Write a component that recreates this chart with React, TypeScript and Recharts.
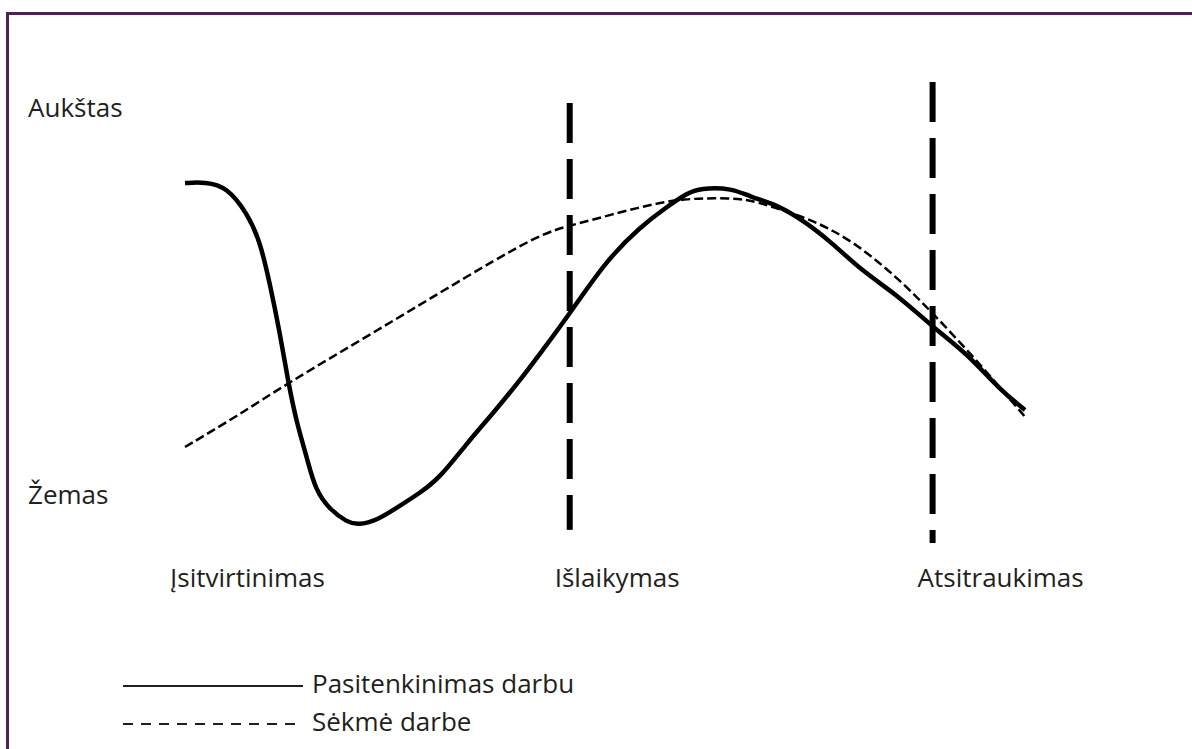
import React from "react";
import { LineChart, Line, XAxis, YAxis, ReferenceLine, Legend } from "recharts";

// career progress (0 = start, 100 = end) and level (Žemas = 0, Aukštas = 100)
const satisfactionT = [
  0, 2.4, 5, 7.4, 8.9, 10.1, 11.3, 12.3, 13.3, 14.5, 15.5, 17.3, 19.3, 20.6, 22.9, 25.2, 28, 30.4, 33.6,
  36.7, 39.9, 42.3, 46.1, 50.2, 54.2, 57.4, 59.8, 61.3, 65.2, 67.3, 70, 73.2, 77.1, 80.4, 85.1, 89, 93.1,
  97, 100,
];
const satisfactionLevel = [
  80.6, 80.9, 79.6, 72.8, 65.8, 54.7, 41.8, 29.0, 18.6, 9.8, 1.3, -3.9, -7.0, -7.75, -6.5, -3.3, 0.55, 4.6,
  13.5, 21.2, 29.7, 36.6, 47.8, 60.7, 69.3, 74.5, 78.0, 79.3, 79.3, 77.0, 75.4, 71.6, 65.1, 58.2, 51.2,
  43.4, 36.6, 27.2, 22.0,
];
const successT = [0, 6.2, 12.3, 22, 31.2, 42.3, 46.1, 54.2, 59.3, 65.2, 67.6, 74, 77.1, 80.4, 85.1, 89, 93.1, 97, 100];
const successLevel = [
  12.4, 20.4, 29.0, 41.4, 53.4, 67.7, 69.7, 74.5, 76.7, 76.7, 76.2, 71.6, 68.4, 64.1, 55.6, 47.0, 37.5,
  27.9, 20.2,
];

const seriesNames = ["Pasitenkinimas darbu", "Sėkmė darbe"];
const stageNames = ["Įsitvirtinimas", "Išlaikymas", "Atsitraukimas"];
const stageStarts = [0, 45.8, 89];
const levelNames = ["Žemas", "Aukštas"];
const levelTicks = [0, 100];
// stage boundaries (the first stage has none) and how far each one reaches
const boundaryT = [45.8, 89];
const boundaryTop = [101.3, 106.7];
const boundaryBottom = [-9, -12.4];

const satisfaction = satisfactionT.map((t, i) => ({ t, level: satisfactionLevel[i] }));
const success = successT.map((t, i) => ({ t, level: successLevel[i] }));

const INK = "#231f20";
const FONT = "'Open Sans', sans-serif";
const FONT_SIZE = 26;

function StageTick(props: any) {
  const { x, y, payload } = props;
  const i = stageStarts.indexOf(payload.value);
  return (
    <text x={x - 15} y={y + 43} textAnchor="start" dominantBaseline="central" fill={INK} fontSize={FONT_SIZE} fontFamily={FONT}>
      {stageNames[i]}
    </text>
  );
}

function LevelTick(props: any) {
  const { x, y, payload } = props;
  const i = levelTicks.indexOf(payload.value);
  return (
    <text x={x - 149} y={y - 1} textAnchor="start" dominantBaseline="central" fill={INK} fontSize={FONT_SIZE} fontFamily={FONT}>
      {levelNames[i]}
    </text>
  );
}

function LegendContent({ payload }: any) {
  return (
    <div style={{ fontFamily: FONT, fontSize: FONT_SIZE, color: INK }}>
      {(payload || []).map((p: any) => (
        <div key={p.value} style={{ display: "flex", alignItems: "center", height: 38 }}>
          <svg width={180} height={12} style={{ marginTop: 6 }}>
            <line
              x1={0}
              x2={180}
              y1={6}
              y2={6}
              stroke={INK}
              strokeWidth={2}
              strokeDasharray={p.payload?.strokeDasharray ? "10 8" : undefined}
            />
          </svg>
          <span style={{ marginLeft: 9 }}>{p.value}</span>
        </div>
      ))}
    </div>
  );
}

export default function App() {
  return (
    <div style={{ position: "fixed", left: 0, top: 0, width: 1192, height: 749, overflow: "hidden", background: "#fff" }}>
      <div
        style={{
          position: "absolute",
          left: 6,
          top: 12,
          width: 1220,
          height: 780,
          border: "3px solid #4b2452",
        }}
      />
      <div style={{ position: "absolute", left: 0, top: 0 }}>
        <LineChart width={1192} height={749} margin={{ top: 108, right: 167, bottom: 163, left: 125 }}>
          <XAxis
            type="number"
            dataKey="t"
            domain={[0, 100]}
            ticks={stageStarts}
            interval={0}
            tick={<StageTick />}
            axisLine={false}
            tickLine={false}
            height={60}
            allowDuplicatedCategory={false}
          />
          <YAxis
            type="number"
            domain={[-8, 100]}
            ticks={levelTicks}
            interval={0}
            tick={<LevelTick />}
            axisLine={false}
            tickLine={false}
            width={60}
          />
          {boundaryT.map((t, i) => (
            <ReferenceLine
              key={t}
              segment={[
                { x: t, y: boundaryTop[i] },
                { x: t, y: boundaryBottom[i] },
              ]}
              ifOverflow="visible"
              stroke="#000"
              strokeWidth={6}
              strokeDasharray="40 16"
            />
          ))}
          <Line
            data={success}
            dataKey="level"
            name={seriesNames[1]}
            type="basis"
            stroke="#000"
            strokeWidth={2.5}
            strokeDasharray="9 4"
            dot={false}
            isAnimationActive={false}
          />
          <Line
            data={satisfaction}
            dataKey="level"
            name={seriesNames[0]}
            type="basis"
            stroke="#000"
            strokeWidth={4.5}
            dot={false}
            isAnimationActive={false}
          />
          <Legend
            layout="vertical"
            align="center"
            verticalAlign="middle"
            content={<LegendContent />}
            wrapperStyle={{ left: 123, top: 664, width: 600 }}
          />
        </LineChart>
      </div>
    </div>
  );
}
